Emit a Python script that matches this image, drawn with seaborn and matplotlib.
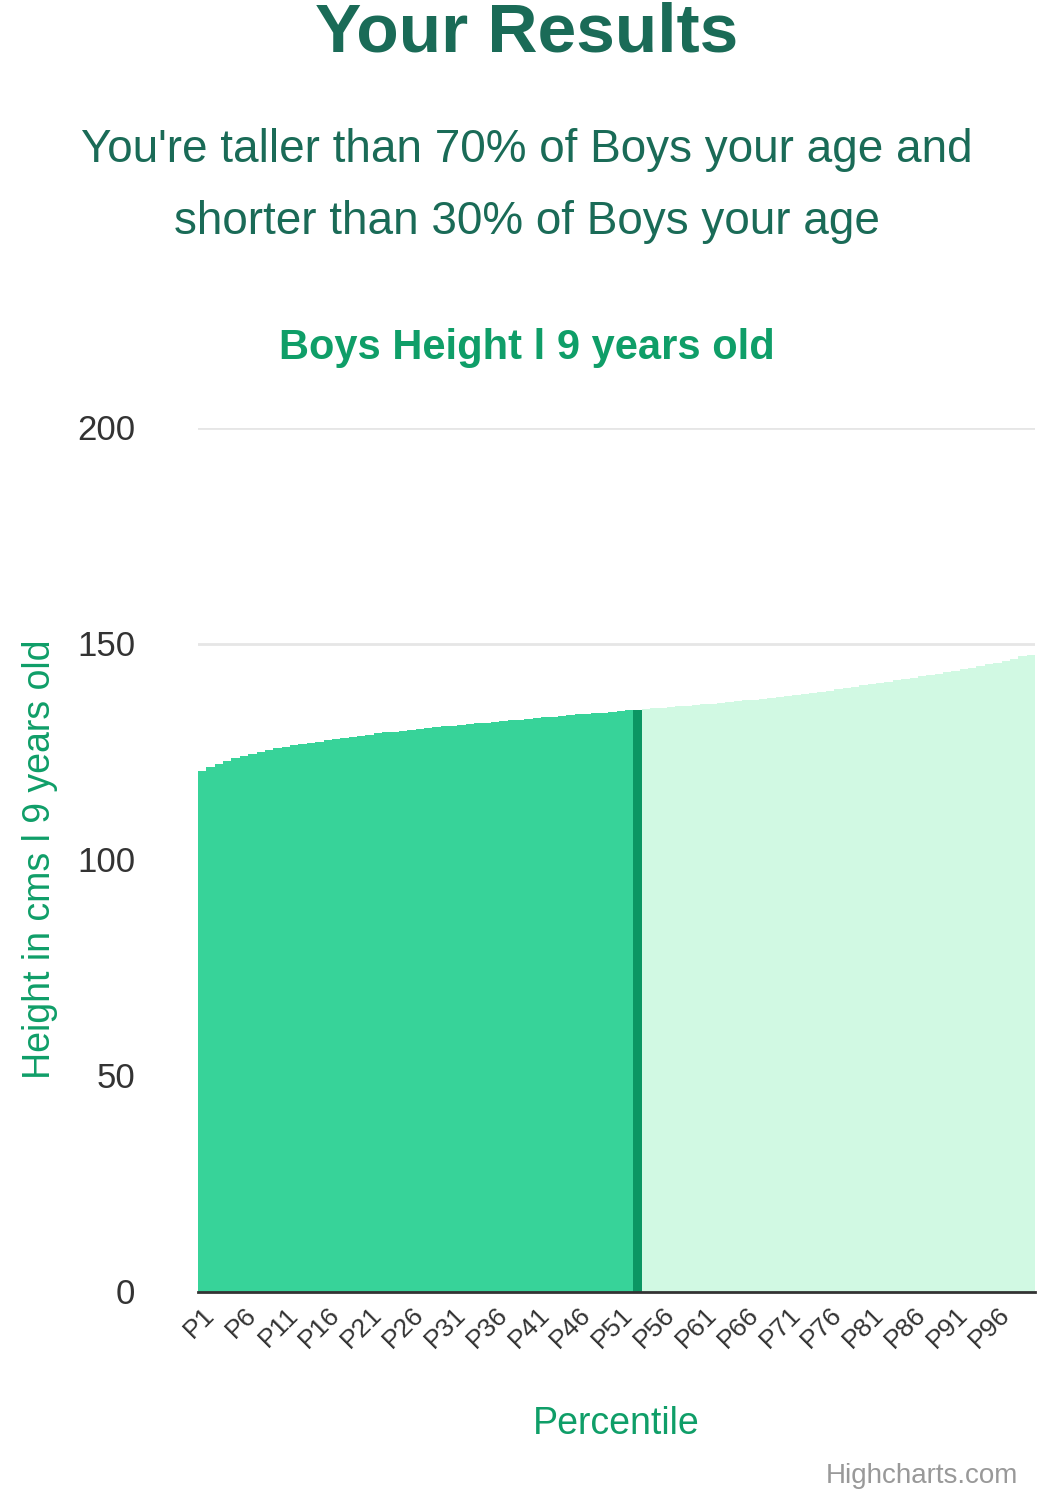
import matplotlib
matplotlib.use("Agg")
import matplotlib.pyplot as plt
import pandas as pd
import seaborn as sns

percentiles = [f"P{i}" for i in range(1, 101)]
heights = [
    120.5, 121.3, 122.0, 122.8, 123.4, 124.0, 124.5, 125.0, 125.4, 125.8,
    126.1, 126.4, 126.7, 127.0, 127.3, 127.6, 127.9, 128.2, 128.4, 128.7,
    128.9, 129.2, 129.4, 129.6, 129.8, 130.0, 130.2, 130.4, 130.6, 130.8,
    131.0, 131.2, 131.4, 131.5, 131.7, 131.9, 132.1, 132.2, 132.4, 132.6,
    132.8, 132.9, 133.1, 133.2, 133.4, 133.6, 133.7, 133.9, 134.0, 134.2,
    134.3, 134.5, 134.6, 134.8, 135.0, 135.1, 135.3, 135.5, 135.6, 135.8,
    136.0, 136.1, 136.3, 136.5, 136.7, 136.9, 137.0, 137.2, 137.4, 137.6,
    137.8, 138.0, 138.3, 138.5, 138.8, 139.1, 139.4, 139.7, 140.0, 140.3,
    140.6, 140.9, 141.2, 141.5, 141.8, 142.1, 142.4, 142.7, 143.0, 143.3,
    143.7, 144.0, 144.4, 144.8, 145.2, 145.6, 146.0, 146.5, 147.0, 147.3,
]
user_index = 52
tick_labels = percentiles[::5]

GREEN = "#1a6b57"
MID = "#0f9e68"
colors = ["#37d399" if i < user_index else ("#0b9663" if i == user_index else "#d1f9e3")
          for i in range(len(heights))]

df = pd.DataFrame({"percentile": percentiles, "height": heights})

plt.rcParams["font.family"] = "Liberation Sans"
fig = plt.figure(figsize=(10.53, 15), dpi=100)
ax = fig.add_axes([0.188, 0.139, 0.795, 0.576])
sns.barplot(data=df, x="percentile", y="height", hue="percentile", palette=colors,
            legend=False, width=1.0, linewidth=0, saturation=1, ax=ax)

ax.set_ylim(0, 200)
ax.set_xlim(-0.5, 99.5)
ax.set_yticks([0, 50, 100, 150, 200])
ax.tick_params(axis="y", labelsize=25, length=0, pad=45, colors="#333333")
ax.yaxis.grid(True, color="#e6e6e6", linewidth=2)
ax.set_axisbelow(True)
ax.set_xticks(range(0, 100, 5))
ax.set_xticklabels(tick_labels, rotation=45, ha="right", rotation_mode="anchor", fontsize=19, color="#333333")
ax.tick_params(axis="x", length=0, pad=8)
for side in ["top", "right", "left"]:
    ax.spines[side].set_visible(False)
ax.spines["bottom"].set_color("#333333")
ax.spines["bottom"].set_linewidth(2)
ax.set_xlabel("Percentile", fontsize=27, color=MID, labelpad=38)
ax.set_ylabel("Height in cms l 9 years old", fontsize=27, color=MID, labelpad=14)

fig.text(0.5, 0.978, "Your Results", ha="center", va="center", fontsize=50, fontweight="bold", color=GREEN)
fig.text(0.5, 0.9, "You're taller than 70% of Boys your age and", ha="center", va="center", fontsize=33, color=GREEN)
fig.text(0.5, 0.852, "shorter than 30% of Boys your age", ha="center", va="center", fontsize=33, color=GREEN)
fig.text(0.5, 0.768, "Boys Height l 9 years old", ha="center", va="center", fontsize=30, fontweight="bold", color=MID)
fig.text(0.967, 0.016, "Highcharts.com", ha="right", va="center", fontsize=20, color="#999999")

fig.savefig("out.png", dpi=100)
